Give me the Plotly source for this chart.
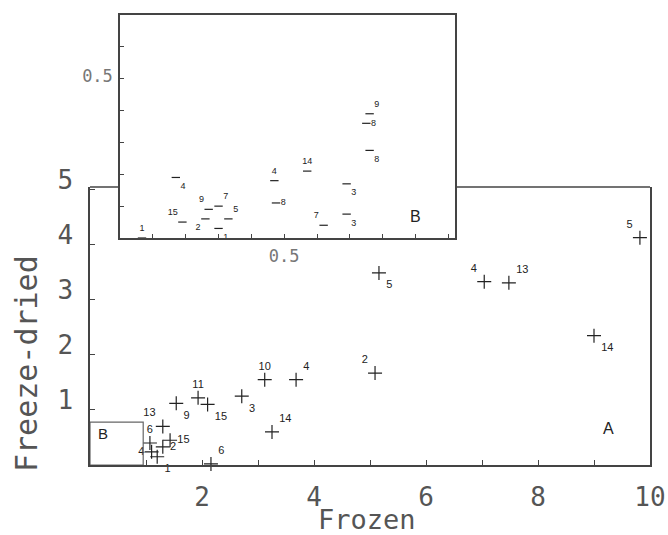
import plotly.graph_objects as go

# ---- data: main panel (A) ----
main_labels = ["10", "3", "11", "15", "9", "14", "13", "15", "6", "2", "4", "1", "6",
               "4", "2", "5", "4", "13", "14", "5"]
main_frozen = [3.12, 2.71, 1.93, 2.10, 1.54, 3.25, 1.30, 1.43, 1.07, 1.30, 1.10, 1.20, 2.16,
               3.68, 5.09, 5.16, 7.04, 7.48, 9.00, 9.82]
main_freeze_dried = [1.55, 1.25, 1.22, 1.10, 1.12, 0.60, 0.70, 0.45, 0.40, 0.33, 0.24, 0.15, 0.02,
                     1.55, 1.67, 3.49, 3.33, 3.31, 2.35, 4.13]

# ---- data: inset panel (B) ----
inset_labels = ["1", "4", "15", "9", "7", "2", "5", "1", "4", "8", "14",
                "9", "8", "8", "3", "7", "3"]
inset_frozen = [0.067, 0.17, 0.19, 0.27, 0.30, 0.26, 0.33, 0.30, 0.47, 0.475, 0.57,
                0.76, 0.75, 0.76, 0.69, 0.62, 0.69]
inset_freeze_dried = [0.00, 0.19, 0.05, 0.09, 0.10, 0.06, 0.06, 0.03, 0.18, 0.11, 0.21,
                      0.39, 0.36, 0.275, 0.17, 0.04, 0.075]

# ---- tick labels ----
main_xticks = list(range(0, 11))
main_xticktext = ["", "", "2", "", "4", "", "6", "", "8", "", "10"]
main_yticks = [0, 1, 2, 3, 4, 5]
main_yticktext = ["", "1", "2", "3", "4", "5"]
inset_ticks = [0.1, 0.2, 0.3, 0.4, 0.5, 0.6, 0.7, 0.8, 0.9, 1.0]
inset_ticktext = ["", "", "", "", "0.5", "", "", "", "", ""]
inset_yticks = [0.1, 0.2, 0.3, 0.4, 0.5, 0.6]
inset_yticktext = ["", "", "", "", "0.5", ""]

# label placement around each marker
main_pos = ["top center", "bottom right", "top center", "bottom right", "bottom right",
            "top right", "top left", "middle right", "top center", "middle right",
            "middle left", "bottom right", "top right",
            "top right", "top left", "bottom right", "top left", "top right",
            "bottom right", "top left"]
inset_pos = ["top center", "bottom right", "top left", "top left", "top right",
             "bottom left", "top right", "bottom right", "top center", "middle right",
             "top center", "top right", "middle right", "bottom right", "bottom right",
             "top left", "bottom right"]

W, H = 668, 535
MAIN_X = [90 / W, 650 / W]
MAIN_Y = [(H - 465) / H, (H - 187) / H]
INS_X = [120 / W, 455 / W]
INS_Y = [(H - 238) / H, (H - 15) / H]

AX = "#444444"
MONO = "DejaVu Sans Mono"

fig = go.Figure()
fig.add_trace(go.Scatter(
    x=main_frozen, y=main_freeze_dried, text=main_labels, textposition=main_pos,
    mode="markers+text", xaxis="x", yaxis="y", cliponaxis=False,
    marker=dict(symbol="cross-thin", size=10, line=dict(width=1.2, color="#222")),
    textfont=dict(family="Liberation Sans", size=11, color="#222"),
    showlegend=False, hoverinfo="skip"))
fig.add_trace(go.Scatter(
    x=inset_frozen, y=inset_freeze_dried, text=inset_labels, textposition=inset_pos,
    mode="markers+text", xaxis="x2", yaxis="y2", cliponaxis=False,
    marker=dict(symbol="line-ew", size=6, line=dict(width=1.2, color="#222")),
    textfont=dict(family="Liberation Sans", size=9, color="#222"),
    showlegend=False, hoverinfo="skip"))

fig.update_layout(
    width=W, height=H, margin=dict(l=0, r=0, t=0, b=0, autoexpand=False),
    paper_bgcolor="white", plot_bgcolor="white",
    xaxis=dict(domain=MAIN_X, range=[0, 10], anchor="y", showgrid=False, zeroline=False,
               automargin=False,
               showline=True, linecolor=AX, linewidth=1.5, mirror=False,
               ticks="inside", ticklen=5, tickcolor=AX, tickvals=main_xticks,
               ticktext=main_xticktext, ticklabelstandoff=8,
               tickfont=dict(family=MONO, size=26, color="#555")),
    yaxis=dict(domain=MAIN_Y, range=[0, 5.05], anchor="x", showgrid=False, zeroline=False,
               automargin=False,
               showline=True, linecolor=AX, linewidth=1.5, mirror=True,
               ticks="inside", ticklen=5, tickcolor=AX, tickvals=main_yticks,
               ticktext=main_yticktext, ticklabelstandoff=10, ticklabelshift=-10,
               tickfont=dict(family=MONO, size=26, color="#555")),
    xaxis2=dict(domain=INS_X, range=[0, 1.02], anchor="y2", showgrid=False, zeroline=False,
                automargin=False,
                showline=True, linecolor=AX, linewidth=1.5, mirror=True,
                ticks="inside", ticklen=4, tickcolor=AX, tickvals=inset_ticks,
                ticktext=inset_ticktext, ticklabelstandoff=2,
                tickfont=dict(family=MONO, size=17, color="#777")),
    yaxis2=dict(domain=INS_Y, range=[0, 0.70], anchor="x2", showgrid=False, zeroline=False,
                automargin=False,
                showline=True, linecolor=AX, linewidth=1.5, mirror=True,
                ticks="inside", ticklen=4, tickcolor=AX, tickvals=inset_yticks,
                ticktext=inset_yticktext, ticklabelstandoff=2, ticklabelshift=-3,
                tickfont=dict(family=MONO, size=17, color="#777")),
)

# top edge of main frame, interrupted by the inset
for xa, xb in [(MAIN_X[0], INS_X[0]), (INS_X[1], MAIN_X[1])]:
    fig.add_shape(type="line", xref="paper", yref="paper", x0=xa, x1=xb,
                  y0=MAIN_Y[1], y1=MAIN_Y[1], line=dict(color=AX, width=1.5))

# region B marked on main panel
fig.add_shape(type="rect", xref="x", yref="y", x0=0, x1=0.95, y0=0, y1=0.78,
              line=dict(color="#666", width=1.2))

fig.add_annotation(text="B", x=0.23, y=0.58, xref="x", yref="y", showarrow=False,
                   font=dict(family="Liberation Sans", size=15, color="#222"))
fig.add_annotation(text="A", x=9.25, y=0.67, xref="x", yref="y", showarrow=False,
                   font=dict(family="Liberation Sans", size=16, color="#222"))
fig.add_annotation(text="B", x=0.90, y=0.066, xref="x2", yref="y2", showarrow=False,
                   font=dict(family="Liberation Sans", size=16, color="#222"))

# axis titles
fig.add_annotation(text="Frozen", x=367 / W, y=(H - 519) / H, xref="paper", yref="paper",
                   xanchor="center", yanchor="middle",
                   showarrow=False, font=dict(family=MONO, size=27, color="#555"))
fig.add_annotation(text="Freeze-dried", x=27 / W, y=(H - 364) / H, xref="paper", yref="paper",
                   xanchor="center", yanchor="middle",
                   showarrow=False, textangle=-90,
                   font=dict(family=MONO, size=30, color="#555"))

fig.write_html("out.html")
